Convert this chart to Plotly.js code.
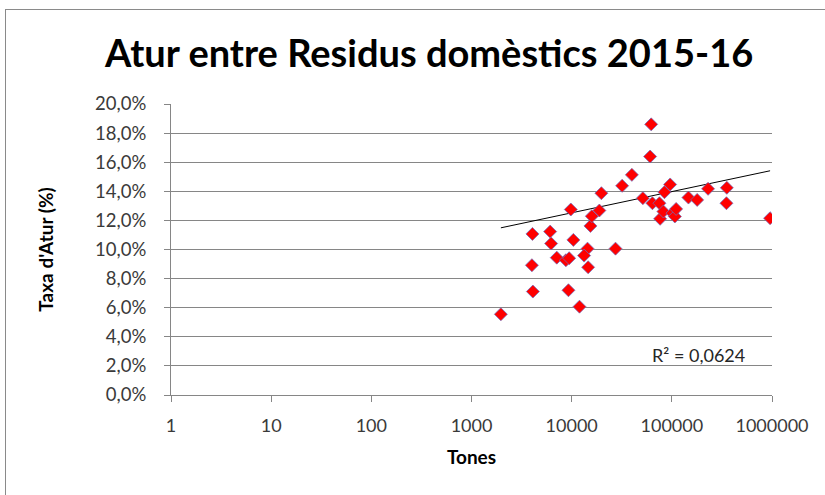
<!DOCTYPE html>
<html>
<head>
<meta charset="utf-8">
<script src="https://cdn.plot.ly/plotly-3.0.1.min.js"></script>
<style>
body{margin:0;overflow:hidden;background:#fff}
#chart{position:absolute;left:0;top:0;width:825px;height:495px}
#frame{position:absolute;left:5px;top:9px;width:900px;height:600px;border-left:1px solid #8a8a8a;border-top:1px solid #8a8a8a;pointer-events:none;z-index:2}
</style>
</head>
<body>
<div id="chart"></div>
<div id="frame"></div>
<script>
// Tones of domestic waste (x) and unemployment rate in % (y)
const tones = [1965, 4060, 4010, 4100, 6100, 6240, 7100, 8750, 9440, 9290,
  9810, 10400, 11970, 14400, 13300, 14600, 15400, 15900, 18900, 19800,
  27400, 31900, 39900, 51400, 62200, 60700, 64000, 75200, 76400, 82400,
  84400, 96200, 101400, 107200, 110400, 146500, 179000, 230000, 354000, 351000, 957000];
const atur = [5.55, 11.07, 8.92, 7.11, 11.23, 10.41, 9.44, 9.26, 9.40, 7.20,
  12.75, 10.66, 6.07, 10.06, 9.58, 8.78, 11.62, 12.29, 12.68, 13.87,
  10.06, 14.38, 15.13, 13.53, 18.6, 16.39, 13.18, 13.18, 12.11, 12.61,
  13.94, 14.47, 12.50, 12.27, 12.79, 13.57, 13.41, 14.17, 14.24, 13.18, 12.15];
// Excel logarithmic trendline, values read at its two ends (first and last x)
const trendEnds = [11.49, 15.41];
const xTickVals = [1, 10, 100, 1000, 10000, 100000, 1000000];
const xTickText = ["1", "10", "100", "1000", "10000", "100000", "1000000"];
const rSquaredLabel = "R² = 0,0624";

const trendX = [Math.min(...tones), Math.max(...tones)];
const trendY = trendEnds;

const FONT = "Lato, 'Open Sans', sans-serif";
const GRID = "#868686";

const data = [
  {x: trendX, y: trendY, type: "scatter", mode: "lines",
   line: {color: "#000000", width: 1}, hoverinfo: "skip"},
  {x: tones, y: atur, type: "scatter", mode: "markers",
   marker: {symbol: "diamond", size: 10, color: "#ff0000",
            line: {color: "rgba(110,110,190,0.75)", width: 1}}}
];

const layout = {
  width: 825, height: 495,
  margin: {l: 171, r: 53, t: 104, b: 100},
  paper_bgcolor: "#ffffff", plot_bgcolor: "#ffffff",
  showlegend: false,
  separators: ",.",
  title: {text: "Atur entre Residus domèstics 2015-16",
          font: {family: FONT, size: 38, color: "#000000", weight: "bold"},
          xref: "paper", x: 0.4295, xanchor: "center",
          yref: "container", y: 1 - 54/495, yanchor: "middle"},
  xaxis: {type: "log", range: [0, 6],
          tickvals: xTickVals, ticktext: xTickText,
          showgrid: false, zeroline: false,
          showline: true, linecolor: GRID, linewidth: 1,
          ticks: "outside", ticklen: 6, tickcolor: GRID,
          ticklabelstandoff: 8,
          tickfont: {family: FONT, size: 18, color: "#3a3a3a"},
          title: {text: "Tones", standoff: 16,
                  font: {family: FONT, size: 19, color: "#000000", weight: "bold"}}},
  yaxis: {range: [0, 20], dtick: 2, tickformat: ".1f", ticksuffix: "%",
          showgrid: true, gridcolor: GRID, gridwidth: 1, zeroline: false,
          showline: true, linecolor: GRID, linewidth: 1,
          ticks: "outside", ticklen: 6, tickcolor: GRID,
          ticklabelstandoff: 14,
          tickfont: {family: FONT, size: 18.5, color: "#3a3a3a"},
          title: {text: "Taxa d'Atur (%)", standoff: 36,
                  font: {family: FONT, size: 19, color: "#000000", weight: "bold"}}},
  annotations: [{text: rSquaredLabel, xref: "paper", yref: "paper",
                 x: (698 - 171) / 601, y: (395 - 355) / 291,
                 xanchor: "center", yanchor: "middle", showarrow: false,
                 font: {family: FONT, size: 18, color: "#262626"}}]
};

Plotly.newPlot("chart", data, layout, {displayModeBar: false, staticPlot: true});
</script>
</body>
</html>
